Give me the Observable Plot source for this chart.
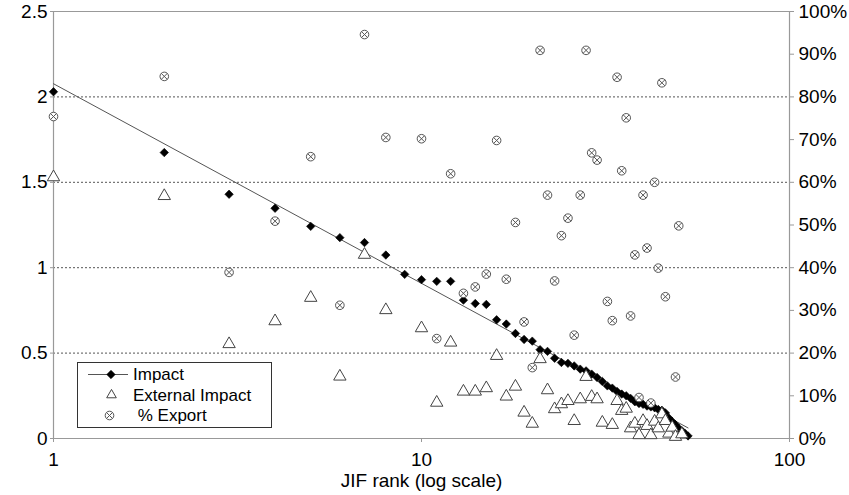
<!DOCTYPE html>
<html><head><meta charset="utf-8">
<script src="https://cdn.jsdelivr.net/npm/d3@7"></script>
<script src="https://cdn.jsdelivr.net/npm/@observablehq/plot@0.6"></script>
<style>body{margin:0;background:#fff;font-family:"Liberation Sans",Arial,sans-serif}</style>
</head><body><div id="chart"></div>
<script>
// ---- data ----
const impactRank = [1,2,3,4,5,6,7,8,9,10,11,12,13,14,15,16,17,18,19,20,21,22,23,24,25,26,27,28,29,30,31,32,33,34,35,36,37,38,39,40,41,42,43,44,45,46,47,48,49,50,51,52,53];
const impactValue = [2.03,1.674,1.43,1.348,1.242,1.176,1.147,1.074,0.961,0.93,0.92,0.92,0.81,0.79,0.785,0.695,0.67,0.615,0.58,0.57,0.52,0.51,0.47,0.445,0.44,0.425,0.406,0.396,0.377,0.357,0.334,0.308,0.295,0.275,0.26,0.25,0.235,0.215,0.205,0.2,0.19,0.185,0.18,0.17,0.165,0.15,0.12,0.1,0.08,0.06,0.045,0.03,0.015];

const extRank  = [1,2,3,4,5,6,7,8,10,11,12,13,14,15,16,17,18,19,20,21,22,23,24,25,26,27,28,29,30,31,33,34,35,36,37,38,39,40,41,42,43,44,45,46,47,48,49,51];
const extValue = [1.53,1.42,0.553,0.687,0.824,0.363,1.076,0.752,0.646,0.21,0.562,0.275,0.275,0.295,0.484,0.246,0.304,0.152,0.087,0.465,0.283,0.172,0.201,0.22,0.103,0.23,0.361,0.244,0.23,0.093,0.08,0.22,0.162,0.175,0.06,0.087,0.02,0.103,0.074,0.02,0.099,0.06,0.142,0.103,0.029,0.064,0.01,0.025];

const exportRank = [1,2,3,4,5,6,7,8,10,11,12,13,14,15,16,17,18,19,20,21,22,23,24,25,26,27,28,29,30,32,33,34,35,36,37,38,39,40,41,42,43,44,45,46,49,50];
const exportPct  = [75.4,84.8,38.9,50.9,66.0,31.2,94.6,70.5,70.2,23.4,62.0,34.0,35.5,38.5,69.8,37.3,50.6,27.3,16.6,90.9,57.0,36.9,47.5,51.6,24.2,57.0,90.9,66.9,65.2,32.1,27.6,84.6,62.7,75.1,28.7,43.0,9.6,57.0,44.6,8.3,60.0,39.9,83.3,33.2,14.4,49.8];

const trendRank  = [1,53];
const trendValue = [2.077,0.062];

const xTicks = [1,10,100];
const leftTicks = [0,0.5,1,1.5,2,2.5];
const rightTicks = [0,10,20,30,40,50,60,70,80,90,100];
const gridValues = [0.5,1,1.5,2];
const seriesNames = ["Impact","External Impact"," % Export"];

// ---- tables ----
const Y_MAX = 2.5;
const impact = impactRank.map((r,i)=>({r, v: impactValue[i]}));
const ext = extRank.map((r,i)=>({r, v: extValue[i]}));
const exp = exportRank.map((r,i)=>({r, v: exportPct[i]/100*Y_MAX}));
const trend = trendRank.map((r,i)=>({r, v: trendValue[i]}));

const FONT = "Liberation Sans, Arial, sans-serif";
const AX = 19;
const svg = Plot.plot({
  width: 849, height: 495,
  marginLeft: 53, marginRight: 60, marginTop: 11, marginBottom: 57,
  style: {fontFamily: FONT, fontSize: AX + "px", background: "#fff", color: "#000", overflow: "visible"},
  x: {type: "log", domain: [1,100]},
  y: {domain: [0, Y_MAX]},
  marks: [
    Plot.ruleY(gridValues, {stroke: "#555", strokeWidth: 1, strokeDasharray: "2,2"}),
    Plot.ruleY([Y_MAX], {stroke: "#999", strokeWidth: 1.2}),
    Plot.ruleY([0], {stroke: "#999", strokeWidth: 1.2}),
    Plot.ruleX([1], {stroke: "#999", strokeWidth: 1.2}),
    Plot.ruleX([100], {stroke: "#999", strokeWidth: 1.2}),
    Plot.axisX({ticks: xTicks, tickFormat: d => String(d), tickSize: 4, tickPadding: 10, stroke: "#999", label: null, fontSize: AX}),
    Plot.axisY({ticks: leftTicks, tickFormat: d => String(d), tickSize: 3, tickPadding: 3, stroke: "#999", label: null, fontSize: AX}),
    Plot.axisY({anchor: "right", ticks: rightTicks.map(p => p/100*Y_MAX), tickFormat: d => Math.round(d/Y_MAX*100) + "%", tickSize: 4, tickPadding: 5, stroke: "#999", label: null, fontSize: AX}),
    Plot.text(["JIF rank (log scale)"], {frameAnchor: "bottom", dy: 48, fontSize: AX, fill: "#000"}),
    Plot.line(trend, {x: "r", y: "v", stroke: "#555", strokeWidth: 1}),
    Plot.dot(impact, {x: "r", y: "v", symbol: "diamond2", r: 3.8, fill: "#000", stroke: "#000", strokeWidth: 0.6}),
    Plot.dot(ext, {x: "r", y: "v", symbol: "triangle", r: 4.6, fill: "#fff", stroke: "#444", strokeWidth: 1}),
    Plot.dot(exp, {x: "r", y: "v", symbol: "circle", r: 4.3, fill: "#fff", stroke: "#555", strokeWidth: 1}),
    Plot.dot(exp, {x: "r", y: "v", symbol: "times", r: 2.9, stroke: "#555", strokeWidth: 1})
  ]
});
document.getElementById("chart").appendChild(svg);

// ---- legend ----
const sel = d3.select(svg);
const g = sel.append("g").attr("font-family", FONT).attr("font-size", 17).attr("text-anchor", "start");
g.append("rect").attr("x", 77.5).attr("y", 362.5).attr("width", 194).attr("height", 65)
  .attr("fill", "#fff").attr("stroke", "#333").attr("stroke-width", 1);
const rows = [374.5, 395, 415.5];
const sym = (type, r) => d3.symbol(type, r*r*Math.PI)();
g.append("line").attr("x1", 88).attr("x2", 128).attr("y1", rows[0]).attr("y2", rows[0]).attr("stroke", "#555");
g.append("path").attr("d", sym(d3.symbolDiamond2, 3.8)).attr("transform", `translate(111,${rows[0]})`).attr("fill", "#000").attr("stroke", "#000").attr("stroke-width", 0.6);
g.append("path").attr("d", sym(d3.symbolTriangle2, 4.6)).attr("transform", `translate(111.5,${rows[1]})`).attr("fill", "#fff").attr("stroke", "#444");
g.append("path").attr("d", sym(d3.symbolCircle, 4.3)).attr("transform", `translate(109.5,${rows[2]})`).attr("fill", "#fff").attr("stroke", "#555");
g.append("path").attr("d", sym(d3.symbolTimes, 2.9)).attr("transform", `translate(109.5,${rows[2]})`).attr("fill", "none").attr("stroke", "#555");
seriesNames.forEach((t, i) => {
  g.append("text").attr("x", 133).attr("y", rows[i]).attr("dy", "0.35em").attr("fill", "#000")
    .attr("text-anchor", "start").style("white-space", "pre").text(t);
});
</script></body></html>
